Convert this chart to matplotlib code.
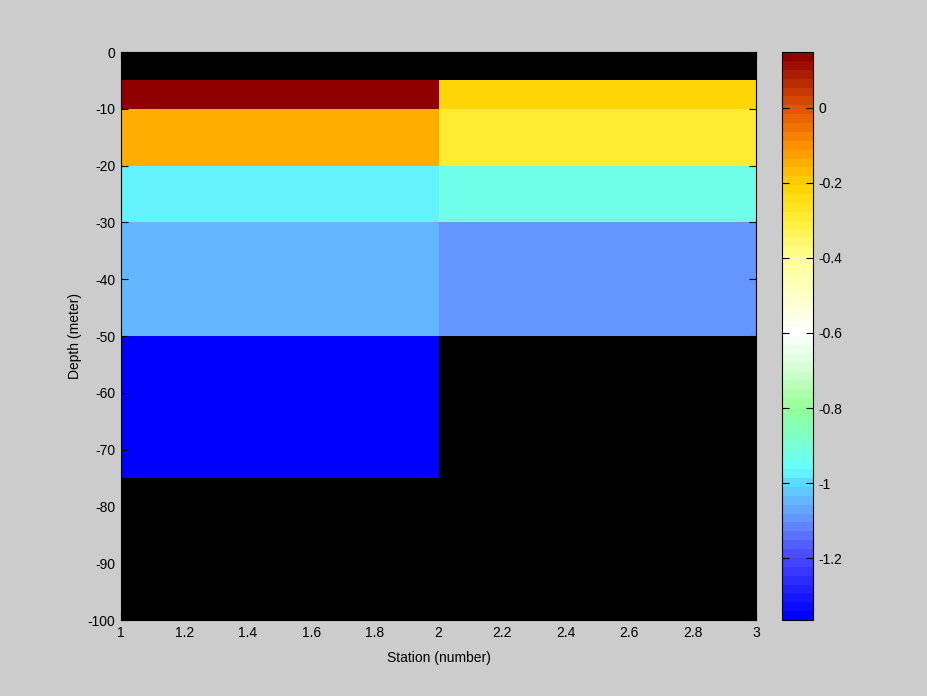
import numpy as np
import matplotlib
matplotlib.use('Agg')
import matplotlib.pyplot as plt
from matplotlib.colors import LinearSegmentedColormap

# Station edges and depth edges (pcolor style grid)
stations = [1, 2, 3]
depths = [0, -5, -10, -20, -30, -50, -75, -100]

# Cell values per station (NaN -> no data, shown as black axes background)
station1 = [np.nan, 0.149, -0.14, -0.965, -1.05, -1.365, np.nan]
station2 = [np.nan, -0.22, -0.30, -0.93, -1.10, np.nan, np.nan]

cmin, cmax = -1.365, 0.149
cbar_ticks = [-1.2, -1.0, -0.8, -0.6, -0.4, -0.2, 0.0]
cbar_labels = ['-1.2', '-1', '-0.8', '-0.6', '-0.4', '-0.2', '0']
xticks = [1, 1.2, 1.4, 1.6, 1.8, 2, 2.2, 2.4, 2.6, 2.8, 3]
xticklabels = ['1', '1.2', '1.4', '1.6', '1.8', '2', '2.2', '2.4', '2.6', '2.8', '3']
yticks = [0, -10, -20, -30, -40, -50, -60, -70, -80, -90, -100]

# custom blue - cyan - white - yellow - red map, 64 steps like the original
anchors = [
    (0.000, (0, 0, 255)),
    (0.109, (75, 75, 255)),
    (0.175, (100, 150, 255)),
    (0.241, (95, 220, 255)),
    (0.261, (100, 255, 255)),
    (0.373, (150, 255, 150)),
    (0.439, (210, 255, 210)),
    (0.505, (255, 255, 255)),
    (0.637, (255, 255, 150)),
    (0.703, (255, 240, 60)),
    (0.769, (255, 210, 0)),
    (0.835, (255, 150, 0)),
    (0.900, (230, 90, 0)),
    (1.000, (145, 0, 0)),
]
cmap = LinearSegmentedColormap.from_list(
    'sect', [(f, tuple(c / 255 for c in rgb)) for f, rgb in anchors], N=64)

plt.rcParams['font.family'] = ['Liberation Sans', 'DejaVu Sans']
plt.rcParams['font.size'] = 10
plt.rcParams['axes.unicode_minus'] = False

fig = plt.figure(figsize=(9.28, 6.96), dpi=100, facecolor='#cccccc')
ax = fig.add_axes([121 / 928, 76 / 696, 635 / 928, 568 / 696])
ax.set_facecolor('black')

C = np.ma.masked_invalid(np.column_stack([station1, station2]))
mesh = ax.pcolormesh(stations, depths, C, cmap=cmap, vmin=cmin, vmax=cmax)

ax.set_xlim(1, 3)
ax.set_ylim(-100, 0)
ax.set_xticks(xticks)
ax.set_xticklabels(xticklabels)
ax.set_yticks(yticks)
ax.tick_params(direction='in', top=True, right=True, length=5, width=0.8,
               colors='black', pad=4)
for s in ax.spines.values():
    s.set_color('black')
    s.set_linewidth(0.8)
ax.set_xlabel('Station (number)', labelpad=8)
ax.set_ylabel('Depth (meter)', labelpad=4)

cax = fig.add_axes([782 / 928, 76 / 696, 31 / 928, 568 / 696])
cb = fig.colorbar(mesh, cax=cax)
cb.set_ticks(cbar_ticks)
cb.set_ticklabels(cbar_labels)
cax.tick_params(direction='in', left=True, right=True, length=5, width=0.8, pad=4)
cb.outline.set_linewidth(0.8)

fig.savefig('out.png', dpi=100, facecolor=fig.get_facecolor())
